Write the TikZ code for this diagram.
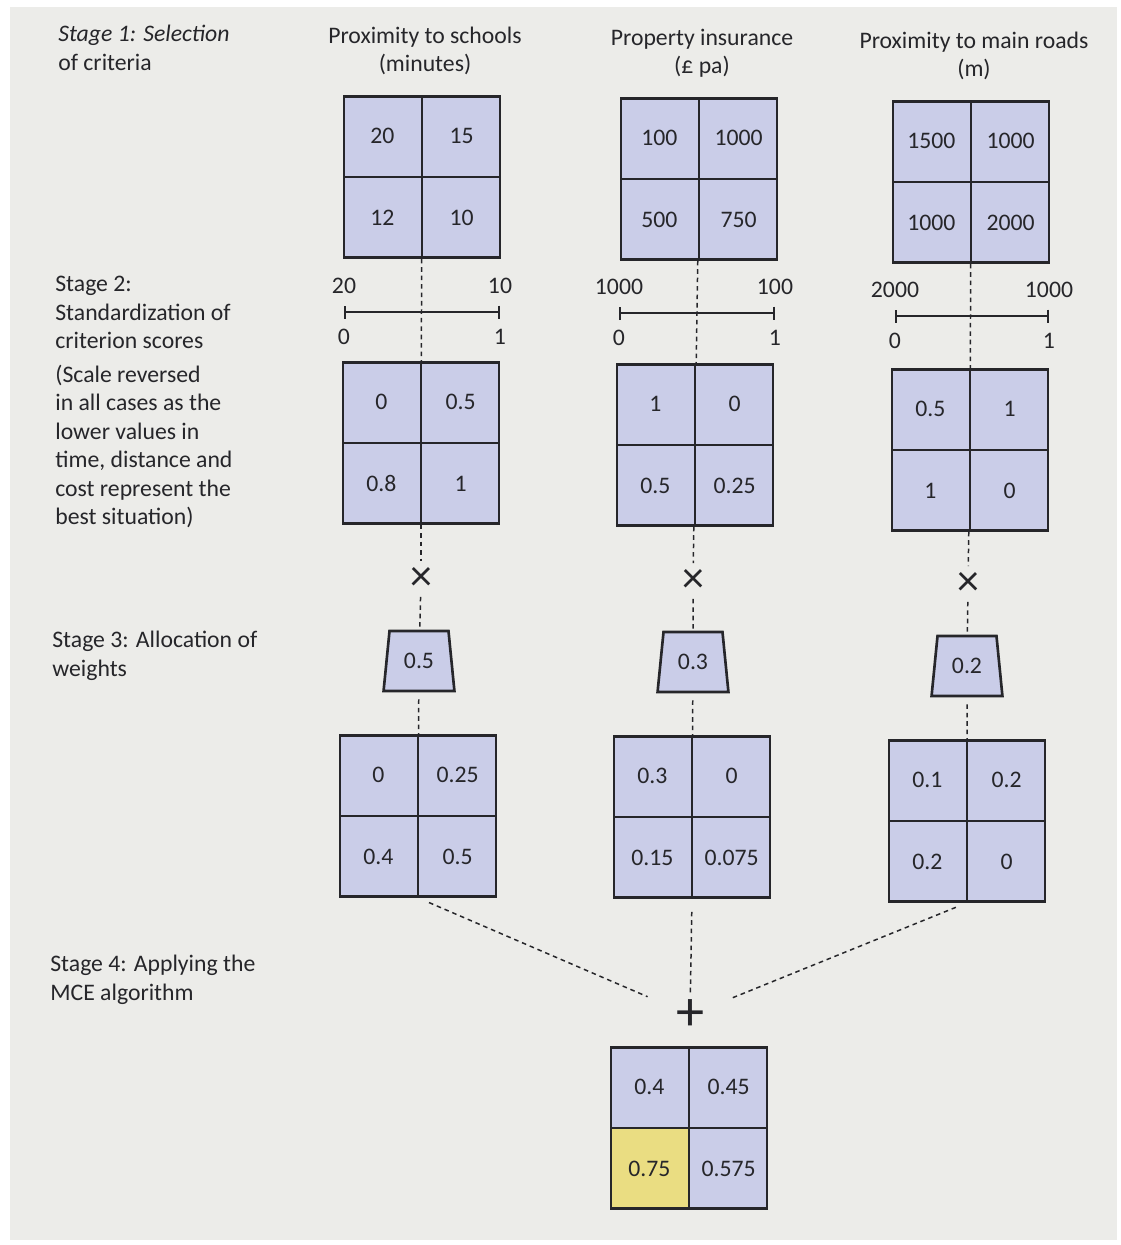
\documentclass[tikz,border=0pt]{standalone}
\usepackage{fontspec}
\setmainfont{Carlito}
\usetikzlibrary{arrows.meta, positioning, calc, shapes.geometric}

\definecolor{paper}{RGB}{236,236,233}
\definecolor{cellblue}{RGB}{202,205,232}
\definecolor{cellyellow}{RGB}{234,221,130}
\definecolor{ink}{RGB}{38,38,42}

\newcommand{\txt}{\fontsize{13.5}{16.2}\selectfont}

\tikzset{
  cell/.style={draw=ink, line width=0.7pt, fill=cellblue, minimum width=1.56cm,
    minimum height=1.61cm, inner sep=0pt, text=ink, font=\txt},
  gridframe/.style={draw=ink, line width=1.5pt, minimum width=3.12cm,
    minimum height=3.22cm, inner sep=0pt},
  weight/.style={trapezium, trapezium left angle=79, trapezium right angle=79,
    trapezium stretches=true, minimum width=1.42cm, minimum height=1.2cm,
    draw=ink, line width=1.5pt, fill=cellblue, inner sep=0pt, text=ink, font=\txt},
  times/.style={circle, minimum size=0.7cm, inner sep=0pt, text=ink,
    font=\fontsize{25}{25}\selectfont},
  sum/.style={circle, minimum size=0.5cm, inner sep=0pt, text=ink,
    font=\fontsize{32}{32}\selectfont},
  link/.style={draw=ink, line width=0.85pt, dash pattern=on 2.6pt off 2.2pt},
  scalebar/.style={draw=ink, line width=1pt, {Bar[width=2.6mm]}-{Bar[width=2.6mm]}},
  num/.style={inner sep=0pt, text=ink, font=\txt},
  heading/.style={inner sep=0pt, align=center, anchor=north, text=ink,
    font=\fontsize{13.5}{15.8}\selectfont},
  stage/.style={inner sep=0pt, align=left, anchor=north west, text=ink, font=\txt}
}

% 2x2 raster: [style of lower left cell]{name}{x}{y}{ul}{ur}{ll}{lr}
\newcommand{\cellgrid}[8][]{%
  \node[cell, anchor=south east] (#2-a) at (#3,#4) {#5};
  \node[cell, anchor=south west] (#2-b) at (#3,#4) {#6};
  \node[cell, anchor=north east, #1] (#2-c) at (#3,#4) {#7};
  \node[cell, anchor=north west] (#2-d) at (#3,#4) {#8};
  \node[gridframe] (#2) at (#3,#4) {};
}

% scale bar: {name}{x left}{x right}{y}{value at 0}{value at 1}
\newcommand{\rangebar}[6]{%
  \coordinate (#1-l) at (#2,#4);
  \coordinate (#1-r) at (#3,#4);
  \draw[scalebar] (#1-l) -- (#1-r);
  \node[num] (#1-tl) at ($(#1-l)+(0,-26)$) {#5};
  \node[num] (#1-tr) at ($(#1-r)+(0,-26)$) {#6};
  \node[num] (#1-bl) at ($(#1-l)+(0,25)$) {0};
  \node[num] (#1-br) at ($(#1-r)+(0,25)$) {1};
}

\begin{document}
\begin{tikzpicture}[x=0.02cm, y=-0.02cm]
  \useasboundingbox (0,0) rectangle (1121,1245);
  \fill[white] (0,0) rectangle (1121,1245);
  \fill[paper] (10,7) rectangle (1117,1240);

  % stages
  \node[stage] (st1) at (58,25) {{\itshape Stage 1: Selection}\\of criteria};
  \node[stage] (st2) at (55,276) {Stage 2:\\Standardization of\\criterion scores\\[3pt](Scale reversed\\in all cases as the\\lower values in\\time, distance and\\cost represent the\\best situation)};
  \node[stage] (st3) at (52,631) {Stage 3: Allocation of\\weights};
  \node[stage] (st4) at (50,955) {Stage 4: Applying the\\MCE algorithm};

  % criteria
  \node[heading] (h1) at (425,27) {Proximity to schools\\(minutes)};
  \node[heading] (h2) at (702,29) {Property insurance\\(£ pa)};
  \node[heading] (h3) at (974,32) {Proximity to main roads\\(m)};

  \cellgrid{g11}{422}{177}{20}{15}{12}{10}
  \cellgrid{g21}{699}{179}{100}{1000}{500}{750}
  \cellgrid{g31}{971}{182}{1500}{1000}{1000}{2000}

  % standardization
  \rangebar{s1}{344}{500}{312}{20}{10}
  \rangebar{s2}{619}{775}{313}{1000}{100}
  \rangebar{s3}{895}{1049}{316}{2000}{1000}

  \cellgrid{g12}{421}{443}{0}{0.5}{0.8}{1}
  \cellgrid{g22}{695}{445}{1}{0}{0.5}{0.25}
  \cellgrid{g32}{970}{450}{0.5}{1}{1}{0}

  % weights
  \node[times] (x1) at (421,579) {×};
  \node[times] (x2) at (693,581) {×};
  \node[times] (x3) at (968,584) {×};

  \node[weight] (w1) at (419,661) {0.5};
  \node[weight] (w2) at (693,662) {0.3};
  \node[weight] (w3) at (967,666) {0.2};

  \cellgrid{g13}{418}{816}{0}{0.25}{0.4}{0.5}
  \cellgrid{g23}{692}{817}{0.3}{0}{0.15}{0.075}
  \cellgrid{g33}{967}{821}{0.1}{0.2}{0.2}{0}

  % MCE
  \node[sum] (plus) at (690,1015) {+};
  \cellgrid[fill=cellyellow]{res}{689}{1128}{0.4}{0.45}{0.75}{0.575}

  \foreach \c in {1,2,3} {
    \draw[link] (g\c1) -- (g\c2);
    \draw[link] (g\c2) -- (x\c);
    \draw[link] (x\c) -- (w\c);
    \draw[link, shorten <=0.14cm] (w\c) -- (g\c3);
  }
  \draw[link, shorten <=0.24cm, shorten >=0.5cm] (g13.south) -- (plus);
  \draw[link, shorten <=0.26cm] (g23.south) -- (plus);
  \draw[link, shorten <=0.24cm, shorten >=0.5cm] (g33.south) -- (plus);
\end{tikzpicture}
\end{document}
